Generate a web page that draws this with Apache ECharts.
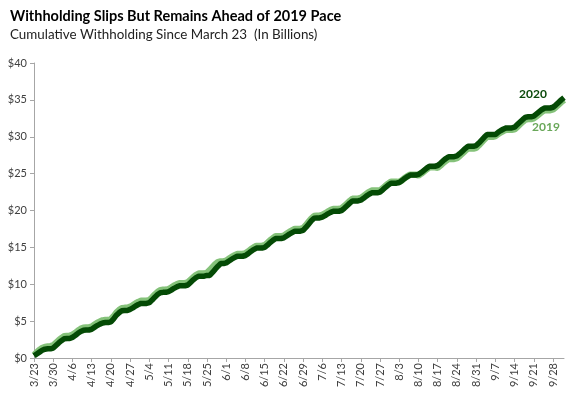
<!DOCTYPE html>
<html>
<head>
<meta charset="utf-8">
<script src="https://cdn.jsdelivr.net/npm/echarts@6/dist/echarts.min.js"></script>
<style>
  html, body { margin: 0; padding: 0; background: #fff; }
  #chart { width: 574px; height: 399px; }
</style>
</head>
<body>
<div id="chart"></div>
<script>
// daily cumulative withholding, 3/23 through 10/2 (billions)
const firstDay = '2020-03-23';
const dayCount = 194;

const yTicks = [0, 5, 10, 15, 20, 25, 30, 35, 40];

const vals2020 = [
  0.3, 0.55, 0.8, 1.05, 1.2, 1.25, 1.25,
  1.35, 1.7, 2.05, 2.35, 2.6, 2.65, 2.65,
  2.8, 3.05, 3.35, 3.6, 3.75, 3.8, 3.8,
  3.9, 4.15, 4.4, 4.6, 4.75, 4.8, 4.8,
  4.9, 5.3, 5.8, 6.15, 6.4, 6.45, 6.45,
  6.6, 6.8, 7.05, 7.25, 7.4, 7.4, 7.4,
  7.5, 7.85, 8.25, 8.6, 8.85, 8.9, 8.9,
  9.0, 9.2, 9.45, 9.65, 9.8, 9.8, 9.8,
  9.9, 10.25, 10.6, 10.9, 11.1, 11.1, 11.1,
  11.2, 11.2, 11.6, 12.05, 12.45, 12.8, 12.8,
  12.9, 13.15, 13.4, 13.6, 13.8, 13.8, 13.8,
  13.9, 14.15, 14.45, 14.7, 14.9, 14.9, 14.9,
  15.0, 15.3, 15.65, 15.95, 16.2, 16.2, 16.2,
  16.3, 16.55, 16.8, 17.0, 17.2, 17.2, 17.2,
  17.3, 17.7, 18.15, 18.6, 18.95, 19.0, 19.0,
  19.1, 19.3, 19.55, 19.75, 19.9, 19.9, 19.9,
  20.0, 20.3, 20.65, 21.0, 21.3, 21.3, 21.3,
  21.4, 21.65, 21.95, 22.2, 22.4, 22.4, 22.4,
  22.5, 22.8, 23.15, 23.45, 23.7, 23.7, 23.7,
  23.8, 24.05, 24.35, 24.6, 24.8, 24.8, 24.8,
  24.9, 25.15, 25.45, 25.75, 26.0, 26.0, 26.0,
  26.1, 26.4, 26.75, 27.05, 27.3, 27.3, 27.3,
  27.4, 27.7, 28.05, 28.4, 28.7, 28.7, 28.7,
  28.8, 29.15, 29.55, 29.95, 30.3, 30.3, 30.3,
  30.3, 30.6, 30.85, 31.05, 31.2, 31.2, 31.2,
  31.3, 31.65, 32.0, 32.35, 32.65, 32.7, 32.7,
  32.8, 33.1, 33.4, 33.7, 33.9, 33.9, 33.9,
  34.0, 34.3, 34.65, 35.0, 35.3
];

const vals2019 = [
  0.4, 0.75, 1.1, 1.35, 1.5, 1.55, 1.6,
  1.7, 2.05, 2.4, 2.7, 2.95, 3.0, 3.0,
  3.15, 3.4, 3.7, 3.95, 4.1, 4.15, 4.15,
  4.25, 4.5, 4.75, 4.95, 5.1, 5.15, 5.15,
  5.25, 5.65, 6.15, 6.5, 6.75, 6.8, 6.8,
  6.95, 7.15, 7.4, 7.6, 7.75, 7.75, 7.75,
  7.85, 8.2, 8.6, 8.95, 9.2, 9.25, 9.25,
  9.35, 9.55, 9.8, 10.0, 10.15, 10.15, 10.15,
  10.25, 10.6, 10.95, 11.25, 11.45, 11.45, 11.45,
  11.55, 11.9, 12.3, 12.7, 13.0, 13.1, 13.1,
  13.2, 13.45, 13.7, 13.9, 14.1, 14.1, 14.1,
  14.2, 14.45, 14.75, 15.0, 15.2, 15.2, 15.2,
  15.3, 15.6, 15.95, 16.25, 16.5, 16.5, 16.5,
  16.6, 16.85, 17.1, 17.3, 17.5, 17.5, 17.5,
  17.6, 18.0, 18.45, 18.9, 19.25, 19.3, 19.3,
  19.4, 19.6, 19.85, 20.05, 20.2, 20.2, 20.2,
  20.3, 20.6, 20.95, 21.3, 21.6, 21.6, 21.6,
  21.7, 21.95, 22.25, 22.5, 22.7, 22.7, 22.7,
  22.7, 23.0, 23.35, 23.65, 23.9, 23.9, 23.9,
  23.85, 24.1, 24.4, 24.65, 24.85, 24.85, 24.85,
  24.75, 25.0, 25.3, 25.6, 25.85, 25.85, 25.85,
  25.8, 26.1, 26.45, 26.75, 27.0, 27.0, 27.0,
  27.1, 27.4, 27.75, 28.1, 28.4, 28.4, 28.4,
  28.5, 28.85, 29.25, 29.65, 30.0, 30.0, 30.0,
  30.1, 30.35, 30.6, 30.8, 30.95, 30.95, 30.95,
  31.0, 31.35, 31.7, 32.05, 32.35, 32.4, 32.4,
  32.5, 32.8, 33.1, 33.4, 33.6, 33.6, 33.6,
  33.7, 34.0, 34.35, 34.7, 35.0
];

// category labels m/d
const days = [];
const d0 = new Date(firstDay + 'T12:00:00');
for (let i = 0; i < dayCount; i++) {
  const d = new Date(d0.getTime() + i * 86400000);
  days.push((d.getMonth() + 1) + '/' + d.getDate());
}

const chart = echarts.init(document.getElementById('chart'));
const font = 'Lato, "Liberation Sans", sans-serif';

chart.setOption({
  animation: false,
  textStyle: { fontFamily: font },
  title: {
    text: 'Withholding Slips But Remains Ahead of 2019 Pace',
    subtext: 'Cumulative Withholding Since March 23  (In Billions)',
    left: 5,
    top: 4,
    itemGap: 4,
    textStyle: { fontSize: 14.5, fontWeight: 'bold', color: '#000', fontFamily: font },
    subtextStyle: { fontSize: 13.4, color: '#222', fontFamily: font }
  },
  grid: { left: 34, right: 10, top: 63, bottom: 41 },
  xAxis: {
    type: 'category',
    data: days,
    boundaryGap: false,
    axisLine: { lineStyle: { color: '#a6a6a6' } },
    axisTick: { interval: 6, length: 4, lineStyle: { color: '#a6a6a6' } },
    axisLabel: { interval: 6, rotate: 90, fontSize: 11, color: '#404040', margin: 5 }
  },
  yAxis: {
    type: 'value',
    min: yTicks[0],
    max: yTicks[yTicks.length - 1],
    interval: 5,
    splitLine: { show: false },
    axisLine: { show: true, lineStyle: { color: '#a6a6a6' } },
    axisTick: { show: true, length: 4, lineStyle: { color: '#a6a6a6' } },
    axisLabel: { fontSize: 11, color: '#404040', margin: 7, formatter: v => '$' + v }
  },
  series: [
    {
      name: '2019',
      type: 'line',
      data: vals2019,
      symbol: 'none',
      lineStyle: { color: '#85c27a', width: 6.5 }
    },
    {
      name: '2020',
      type: 'line',
      data: vals2020,
      symbol: 'none',
      lineStyle: { color: '#044a05', width: 5.5 }
    }
  ],
  graphic: [
    { type: 'text', left: 519, top: 88, style: { text: '2020', fontSize: 12, fontWeight: 'bold', fill: '#0b4a0b', fontFamily: font } },
    { type: 'text', left: 532, top: 121, style: { text: '2019', fontSize: 12, fontWeight: 'bold', fill: '#6aa85a', fontFamily: font } }
  ]
});
</script>
</body>
</html>
